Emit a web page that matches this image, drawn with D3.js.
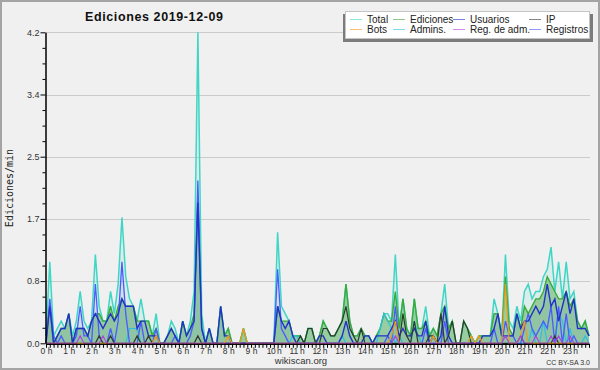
<!DOCTYPE html>
<html>
<head>
<meta charset="utf-8">
<script src="https://cdn.jsdelivr.net/npm/d3@7"></script>
<style>
	body { margin: 0; background: #f0f0f0; }
	svg text { font-family: "Liberation Sans", Arial, sans-serif; }
</style>
</head>
<body>
<svg id="ChartSvg" width="600" height="370"></svg>
<script>
// one value every 10 minutes, 0:00 -> 23:50
var Total = [
	0.1,1.1,0.1,0.2,0.3,0.2, 0.4,0.1,0.3,0.7,0.3,0.2, 0.3,1.2,0.5,0.3,0.3,0.7, 0.4,0.8,1.7,0.9,0.6,0.5,
	0.3,0.6,0.3,0.3,0.1,0.4, 0,0,0.1,0.3,0.2,0, 0.3,0.1,0.3,0.7,4.2,0.4, 0,0.2,0,0,0.5,0.1,
	0.2,0,0,0,0.2,0, 0,0,0,0,0,0, 0,1.5,0.5,0.4,0.3,0.1, 0.1,0.1,0,0.2,0.2,0,
	0.1,0.3,0.2,0.1,0.1,0.2, 0.3,0.8,0.3,0.1,0.1,0.2, 0.1,0.1,0,0.1,0.2,0.4, 0.4,0.3,1.2,0.2,0.6,0.2,
	0.1,0.6,0.2,0.2,0.5,0.1, 0.2,0.1,0.4,0.8,0.2,0.3, 0,0,0.3,0.2,0.1,0, 0.1,0.1,0.1,0.1,0.6,0.4,
	0.1,1.2,0.3,0.2,0.5,0.3, 0.7,0.8,0.6,0.7,0.7,0.9, 1.0,1.3,0.7,1.1,0.6,1.1, 0.6,0.7,0.3,0.2,0.3,0.1
];
var Ediciones = [
	0.1,0.5,0,0.1,0.2,0.2, 0.4,0,0.2,0.2,0.2,0.1, 0.3,0.4,0.4,0.3,0.3,0.5, 0.3,0.5,0.6,0.5,0.5,0.5,
	0.3,0.3,0.3,0.3,0.1,0.2, 0,0,0.1,0.2,0.1,0, 0.3,0.1,0.2,0.4,2.0,0.2, 0,0.2,0,0,0.5,0.1,
	0.2,0,0,0,0.2,0, 0,0,0,0,0,0, 0,0.5,0.3,0.3,0.3,0.1, 0.1,0.1,0,0.2,0.2,0,
	0.1,0.3,0.2,0.1,0.1,0.2, 0.3,0.8,0.3,0.1,0.1,0.2, 0.1,0.1,0,0.1,0.2,0.4, 0.3,0.3,0.7,0.2,0.6,0.2,
	0.1,0.6,0.2,0.2,0.3,0.1, 0.2,0.1,0.4,0.5,0.2,0.3, 0,0,0.3,0.2,0.1,0, 0.1,0.1,0.1,0.1,0.4,0.4,
	0.1,0.9,0.2,0.1,0.4,0.2, 0.5,0.4,0.5,0.6,0.6,0.7, 0.9,0.8,0.7,0.6,0.6,0.7, 0.5,0.6,0.3,0.2,0.3,0.1
];
var Usuarios = [
	0,0.5,0,0.1,0.2,0.2, 0.4,0,0.2,0.2,0.2,0.1, 0.3,0.4,0.3,0.2,0.3,0.4, 0.3,0.4,0.6,0.5,0.5,0.5,
	0.2,0.3,0.3,0.1,0.1,0.1, 0,0,0.1,0.2,0.1,0, 0.3,0.1,0.2,0.3,1.9,0.2, 0,0.2,0,0,0.5,0.1,
	0.1,0,0,0,0,0, 0,0,0,0,0,0, 0,0.5,0.3,0.2,0.3,0.1, 0,0,0,0,0,0,
	0.1,0.1,0,0,0,0, 0.1,0.3,0.1,0,0,0, 0.1,0.1,0,0.1,0.1,0.1, 0.1,0.2,0.3,0.1,0.2,0.1,
	0.1,0.2,0.1,0.1,0.3,0, 0.1,0,0.1,0.5,0.1,0, 0,0,0,0,0,0, 0,0.1,0.1,0.1,0.2,0.4,
	0.1,0.1,0.1,0.1,0.4,0.2, 0.3,0.3,0.4,0.5,0.4,0.5, 0.8,0.5,0.6,0.3,0.5,0.7, 0.4,0.6,0.2,0.2,0.2,0.1
];
var IP = [
	0,0,0,0,0,0, 0,0,0,0,0,0, 0,0,0.1,0,0,0.1, 0,0,0,0,0,0,
	0.1,0,0,0.1,0,0, 0,0,0,0,0,0, 0,0,0,0,0.1,0, 0,0,0,0,0,0,
	0,0,0,0,0,0, 0,0,0,0,0,0, 0,0,0,0,0,0, 0,0.1,0,0.2,0.2,0,
	0,0.2,0.2,0.1,0.1,0.2, 0.3,0.5,0.2,0.1,0,0.2, 0,0,0,0,0,0, 0,0,0,0,0.4,0.1,
	0,0.3,0,0,0,0.1, 0.1,0,0.4,0,0.1,0.3, 0,0,0.3,0.2,0,0, 0,0,0,0,0,0,
	0,0,0,0,0,0.1, 0,0,0,0,0,0, 0,0,0.1,0,0,0, 0,0,0,0,0,0
];
var Bots = [
	0,0,0,0,0,0, 0,0,0,0,0,0, 0,0,0,0,0,0, 0,0,0,0,0,0,
	0,0,0,0,0,0.1, 0,0,0,0,0,0, 0,0,0,0,0,0, 0,0,0,0,0,0,
	0.1,0,0,0,0.2,0, 0,0,0,0,0,0, 0,0,0,0,0,0, 0,0,0,0,0,0,
	0,0,0,0,0,0, 0,0,0,0,0,0, 0,0,0,0,0,0, 0,0.1,0.3,0,0,0,
	0,0,0,0,0,0, 0.1,0,0,0,0,0, 0,0,0,0,0.1,0, 0.1,0,0,0,0,0,
	0,0.8,0,0,0,0.1, 0.3,0,0,0,0,0, 0,0,0,0,0,0, 0,0,0,0,0,0
];
var Admins = [
	0,0,0,0,0,0, 0,0,0,0,0,0, 0,0,0,0,0,0, 0,0,0,0,0.2,0.2,
	0.2,0,0,0,0,0, 0,0,0,0,0,0, 0,0,0,0,0,0, 0,0,0,0,0,0,
	0,0,0,0,0,0, 0,0,0,0,0,0, 0,0,0,0,0,0.1, 0.1,0,0,0,0,0,
	0,0,0,0,0,0, 0.1,0,0,0,0,0, 0,0,0,0,0.2,0.4, 0.3,0.2,0,0.1,0,0,
	0,0.3,0.1,0,0,0, 0,0,0,0,0,0, 0,0,0,0,0.1,0, 0,0,0,0,0,0,
	0,0,0,0,0,0, 0,0,0.2,0,0,0.3, 0,0,0,0.4,0.3,0, 0.2,0,0,0,0.1,0
];
var RegAdm = [
	0,0,0,0,0,0, 0,0,0,0.1,0,0, 0,0,0,0.1,0,0, 0,0,0,0,0,0,
	0,0,0,0,0,0, 0,0,0,0,0,0, 0,0,0,0,0,0, 0,0,0,0,0,0,
	0,0,0,0,0,0, 0,0,0,0,0,0, 0,0,0,0,0,0, 0,0,0,0,0,0,
	0,0,0,0,0,0, 0,0,0,0,0,0, 0,0,0,0,0,0, 0,0,0.1,0,0,0,
	0,0,0,0,0,0, 0,0,0,0,0,0, 0,0,0,0,0,0, 0,0,0,0,0,0,
	0,0.1,0,0,0,0.1, 0,0,0,0.1,0,0, 0,0.1,0,0.1,0,0, 0.1,0,0,0,0,0
];
var Registros = [
	0,0.6,0.1,0,0.1,0, 0,0,0.1,0.5,0.1,0.1, 0,0.8,0.1,0,0,0.2, 0,0.3,1.1,0.4,0,0,
	0,0.3,0,0,0,0.2, 0,0,0,0,0.1,0, 0,0,0.1,0.3,2.2,0.2, 0,0,0,0,0,0,
	0,0,0,0,0,0, 0,0,0,0,0,0, 0,1.0,0.2,0.1,0,0, 0,0,0,0,0,0,
	0,0,0,0,0,0, 0,0,0,0,0,0, 0,0,0,0,0,0, 0.1,0,0.5,0,0,0,
	0,0,0,0,0.2,0, 0,0,0,0.3,0,0, 0,0,0,0,0,0, 0,0,0,0,0.2,0,
	0,0.3,0.1,0.1,0,0, 0.2,0.4,0.2,0.1,0.2,0.3, 0.2,0.5,0,0.5,0,0.4, 0,0.1,0,0,0,0
];
var YTickLabels = ["0.0","0.8","1.7","2.5","3.4","4.2"];
var HourLabels = d3.range(0,24).map(function(h){ return h + " h"; });
var LegendNames = ["Total","Ediciones","Usuarios","IP","Bots","Admins.","Reg. de adm.","Registros"];

var Colors = {
	Total: "#3fd6c6", Ediciones: "#3aaa3a", Usuarios: "#2232c8", IP: "#2e3a2e",
	Bots: "#f09a1a", Admins: "#2ec0e0", RegAdm: "#b040e0", Registros: "#4a5cff"
};

var Svg = d3.select("#ChartSvg");
var Left = 46, Right = 589, Top = 32.3, Bottom = 343.3;

var XScale = d3.scaleLinear().domain([0, Total.length - 1]).range([Left, Right]);
var YScale = d3.scaleLinear().domain([0, 4.2]).range([Bottom, Top]);

// background + frame
Svg.append("rect").attr("x",1).attr("y",1).attr("width",598).attr("height",368)
	.style("fill","#f0f0f0").style("stroke","#a4a4a4").style("stroke-width",2);

var MajorTicks = d3.range(0,6).map(function(i){ return i*0.84; });
var MinorTicks = d3.range(0,21).map(function(i){ return i*0.21; }).filter(function(d,i){ return i % 4 != 0; });

// grid
Svg.append("g").selectAll("line")
	.data(MajorTicks.slice(1))
	.enter()
	.append("line")
	.attr("x1",Left).attr("x2",Right + 1)
	.attr("y1",function(d){ return Math.round(YScale(d)) + 0.5; })
	.attr("y2",function(d){ return Math.round(YScale(d)) + 0.5; })
	.style("stroke","#cbcbcb");

// series areas
function AreaOf(Values)
{
	return d3.area()
		.x(function(d,i){ return XScale(i); })
		.y0(YScale(0))
		.y1(function(d){ return YScale(d); })(Values);
}
function LineOf(Values)
{
	return d3.line()
		.x(function(d,i){ return XScale(i); })
		.y(function(d){ return YScale(d); })(Values);
}

Svg.append("path").attr("d",AreaOf(Total)).style("fill","rgba(80,215,205,0.12)");
Svg.append("path").attr("d",AreaOf(Registros)).style("fill","rgba(70,90,255,0.08)");
Svg.append("path").attr("d",AreaOf(Ediciones)).style("fill","#86c68e").style("opacity",0.8);
Svg.append("path").attr("d",AreaOf(Usuarios)).style("fill","rgba(40,60,210,0.06)");

var LineSeries = [
	{Values: Total, Color: Colors.Total, W: 1.5},
	{Values: Ediciones, Color: Colors.Ediciones, W: 1.4},
	{Values: Admins, Color: Colors.Admins, W: 1.2},
	{Values: Registros, Color: Colors.Registros, W: 1.3},
	{Values: Usuarios, Color: Colors.Usuarios, W: 1.4},
	{Values: IP, Color: Colors.IP, W: 1.2},
	{Values: Bots, Color: Colors.Bots, W: 1.2},
	{Values: RegAdm, Color: Colors.RegAdm, W: 1.1}
];

Svg.append("g").selectAll("path")
	.data(LineSeries)
	.enter()
	.append("path")
	.attr("d",function(d){ return LineOf(d.Values); })
	.style("fill","none")
	.style("stroke",function(d){ return d.Color; })
	.style("stroke-width",function(d){ return d.W; })
	.style("stroke-linejoin","miter");

// y axis
Svg.append("g").attr("transform","translate(" + (Left - 0.5) + ",0)")
	.call(d3.axisLeft(YScale).tickValues(MajorTicks).tickSize(5).tickSizeOuter(0).tickPadding(1)
		.tickFormat(function(d,i){ return YTickLabels[i]; }));
Svg.append("g").attr("transform","translate(" + (Left - 0.5) + ",0)")
	.call(d3.axisLeft(YScale).tickValues(MinorTicks).tickSize(3).tickSizeOuter(0).tickFormat(""));

// x axis, a tick every 10 min
Svg.append("g").attr("transform","translate(0," + (Bottom + 0.5) + ")")
	.call(d3.axisBottom(XScale).tickValues(d3.range(0,Total.length)).tickSize(4).tickSizeOuter(0).tickFormat(""));
var HourAxis = Svg.append("g").attr("transform","translate(0," + (Bottom + 0.5) + ")")
	.call(d3.axisBottom(XScale).tickValues(d3.range(0,24).map(function(h){ return h*6; })).tickSize(0).tickPadding(4.5)
		.tickFormat(function(d,i){ return HourLabels[i]; }));

Svg.selectAll(".domain").style("stroke","#000");
Svg.selectAll(".tick line").style("stroke","#000");
Svg.selectAll(".tick text").style("font-family","Liberation Sans, Arial, sans-serif").style("font-size","9px").style("fill","#333");
HourAxis.selectAll(".tick text").style("font-size","8.5px").attr("textLength",function(d){ return d >= 60 ? 15 : 12; });

// titles
Svg.append("text").attr("x",85).attr("y",21).attr("textLength",138)
	.style("font-weight","bold").style("font-size","12.5px").style("fill","#111")
	.text("Ediciones  2019-12-09");
Svg.append("text").attr("transform","translate(13,188) rotate(-90)")
	.attr("text-anchor","middle")
	.style("font-family","DejaVu Sans Mono, monospace").style("font-size","10px").style("fill","#222")
	.text("Ediciones/min");
Svg.append("text").attr("x",301).attr("y",364).attr("text-anchor","middle")
	.style("font-size","9.5px").style("fill","#333").text("wikiscan.org");
Svg.append("text").attr("x",590).attr("y",365).attr("text-anchor","end")
	.style("font-size","7px").style("fill","#333").text("CC BY-SA 3.0");

// legend
var LegendColors = [Colors.Total, Colors.Ediciones, Colors.Usuarios, Colors.IP, Colors.Bots, Colors.Admins, Colors.RegAdm, Colors.Registros];
var ColX = [350, 393, 453, 529];
Svg.append("rect").attr("x",343).attr("y",14).attr("width",250).attr("height",28).style("fill","#7c7c7c");
Svg.append("rect").attr("x",345.5).attr("y",11.5).attr("width",244).attr("height",27)
	.style("fill","#fff").style("stroke","#c4c4c4");

var LegendItem = Svg.append("g").selectAll("g")
	.data(LegendNames)
	.enter()
	.append("g")
	.attr("transform",function(d,i){
		return "translate(" + ColX[i % 4] + "," + (i < 4 ? 19.5 : 29.5) + ")";
	});
LegendItem.append("line").attr("x1",0).attr("x2",12).attr("y1",0).attr("y2",0)
	.style("stroke",function(d,i){ return LegendColors[i]; }).style("stroke-width",1).style("opacity",0.6);
LegendItem.append("text").attr("x",17).attr("y",3.5)
	.style("font-size","10px").style("fill","#222")
	.text(function(d){ return d; });
</script>
</body>
</html>
